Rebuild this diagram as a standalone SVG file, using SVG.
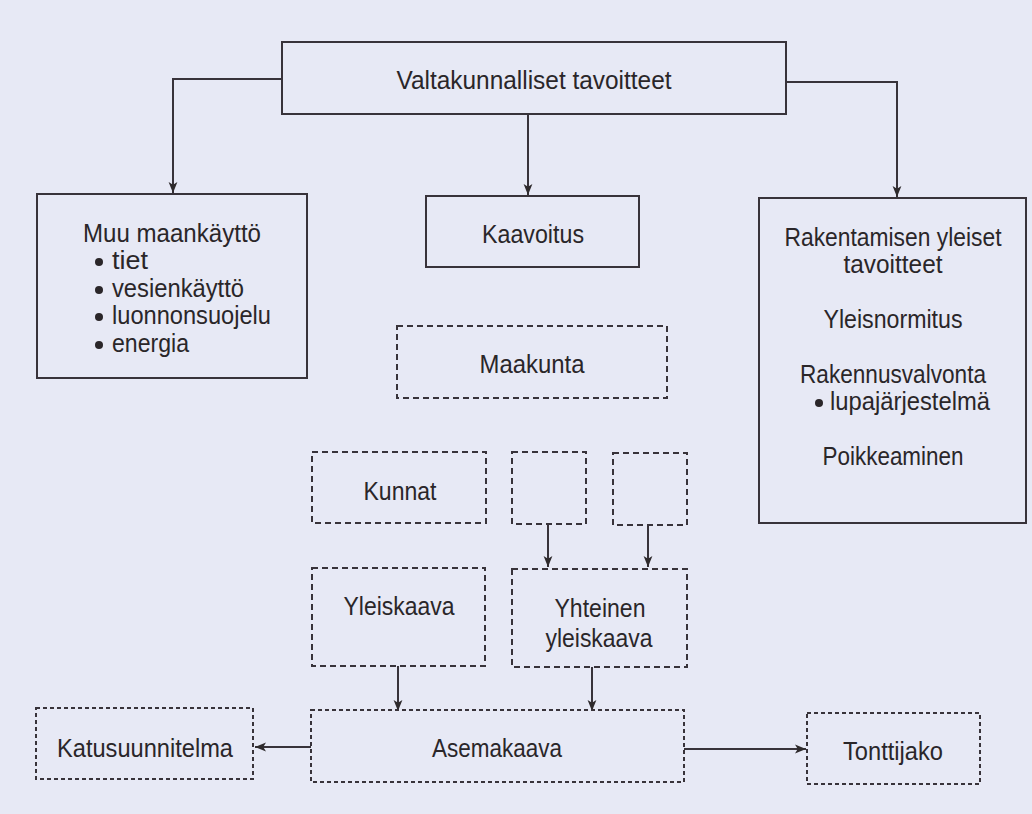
<svg xmlns="http://www.w3.org/2000/svg" width="1032" height="814" viewBox="0 0 1032 814">
<defs>
<marker id="arr" viewBox="0 0 10 10" refX="10" refY="5" markerWidth="11" markerHeight="11" markerUnits="userSpaceOnUse" orient="auto">
<path d="M0,1 L10,5 L0,9 L2.5,5 Z" fill="#2e2a2c"/>
</marker>
<style>
.solid{fill:none;stroke:#38333a;stroke-width:2}
.dash{fill:none;stroke:#38333a;stroke-width:2;stroke-dasharray:6,4}
.fine{fill:none;stroke:#38333a;stroke-width:2;stroke-dasharray:4,3}
.con{fill:none;stroke:#38333a;stroke-width:2;marker-end:url(#arr)}
text{font-family:"Liberation Sans",Arial,sans-serif;font-size:25px;fill:#2a2629}
.c{text-anchor:middle}
.dot{fill:#2a2629}
</style>
</defs>
<rect width="1032" height="814" fill="#e7e9f5"/>
<g id="connectors">
<path class="con" d="M282,79 H173 V193"/>
<path class="con" d="M528,114 V195"/>
<path class="con" d="M786,82 H897 V197"/>
<path class="con" d="M548,524 V567"/>
<path class="con" d="M648,525 V567"/>
<path class="con" d="M398,666 V711"/>
<path class="con" d="M592,667 V711"/>
<path class="con" d="M311,747 H255"/>
<path class="con" d="M684,749 H806"/>
</g>
<g id="valtakunnalliset">
<rect class="solid" x="282" y="42" width="504" height="72"/>
<text x="534" y="89" class="c" textLength="275" lengthAdjust="spacingAndGlyphs">Valtakunnalliset tavoitteet</text>
</g>
<g id="muu">
<rect class="solid" x="37" y="194" width="270" height="184"/>
<text x="83" y="242" textLength="178" lengthAdjust="spacingAndGlyphs">Muu maankäyttö</text>
<circle class="dot" cx="99" cy="262" r="4"/>
<text x="112" y="269" textLength="36" lengthAdjust="spacingAndGlyphs">tiet</text>
<circle class="dot" cx="99" cy="290" r="4"/>
<text x="112" y="297" textLength="132" lengthAdjust="spacingAndGlyphs">vesienkäyttö</text>
<circle class="dot" cx="99" cy="317" r="4"/>
<text x="112" y="324" textLength="159" lengthAdjust="spacingAndGlyphs">luonnonsuojelu</text>
<circle class="dot" cx="99" cy="345" r="4"/>
<text x="112" y="352" textLength="77" lengthAdjust="spacingAndGlyphs">energia</text>
</g>
<g id="kaavoitus">
<rect class="solid" x="426" y="196" width="213" height="71"/>
<text x="533" y="243" class="c" textLength="102" lengthAdjust="spacingAndGlyphs">Kaavoitus</text>
</g>
<g id="maakunta">
<rect class="dash" x="397" y="326" width="270" height="72"/>
<text x="532" y="373" class="c" textLength="105" lengthAdjust="spacingAndGlyphs">Maakunta</text>
</g>
<g id="rakentaminen">
<rect class="solid" x="759" y="198" width="267" height="325"/>
<text x="893" y="246" class="c" textLength="217" lengthAdjust="spacingAndGlyphs">Rakentamisen yleiset</text>
<text x="893" y="273" class="c" textLength="99" lengthAdjust="spacingAndGlyphs">tavoitteet</text>
<text x="893" y="328" class="c" textLength="139" lengthAdjust="spacingAndGlyphs">Yleisnormitus</text>
<text x="893" y="383" class="c" textLength="186" lengthAdjust="spacingAndGlyphs">Rakennusvalvonta</text>
<circle class="dot" cx="819" cy="403" r="4"/>
<text x="830" y="410" textLength="160" lengthAdjust="spacingAndGlyphs">lupajärjestelmä</text>
<text x="893" y="465" class="c" textLength="141" lengthAdjust="spacingAndGlyphs">Poikkeaminen</text>
</g>
<g id="kunnat">
<rect class="dash" x="312" y="452" width="174" height="71"/>
<text x="400" y="500" class="c" textLength="73" lengthAdjust="spacingAndGlyphs">Kunnat</text>
</g>
<g id="pieni1">
<rect class="dash" x="512" y="452" width="74" height="72"/>
</g>
<g id="pieni2">
<rect class="dash" x="613" y="453" width="74" height="72"/>
</g>
<g id="yleiskaava">
<rect class="dash" x="312" y="568" width="173" height="98"/>
<text x="399" y="615" class="c" textLength="111" lengthAdjust="spacingAndGlyphs">Yleiskaava</text>
</g>
<g id="yhteinen">
<rect class="dash" x="512" y="569" width="175" height="98"/>
<text x="600" y="617" class="c" textLength="91" lengthAdjust="spacingAndGlyphs">Yhteinen</text>
<text x="599" y="647" class="c" textLength="107" lengthAdjust="spacingAndGlyphs">yleiskaava</text>
</g>
<g id="asemakaava">
<rect class="fine" x="311" y="710" width="373" height="72"/>
<text x="497" y="757" class="c" textLength="130" lengthAdjust="spacingAndGlyphs">Asemakaava</text>
</g>
<g id="katusuunnitelma">
<rect class="fine" x="36" y="708" width="217" height="71"/>
<text x="145" y="757" class="c" textLength="176" lengthAdjust="spacingAndGlyphs">Katusuunnitelma</text>
</g>
<g id="tonttijako">
<rect class="fine" x="807" y="713" width="173" height="71"/>
<text x="893" y="760" class="c" textLength="100" lengthAdjust="spacingAndGlyphs">Tonttijako</text>
</g>
</svg>
